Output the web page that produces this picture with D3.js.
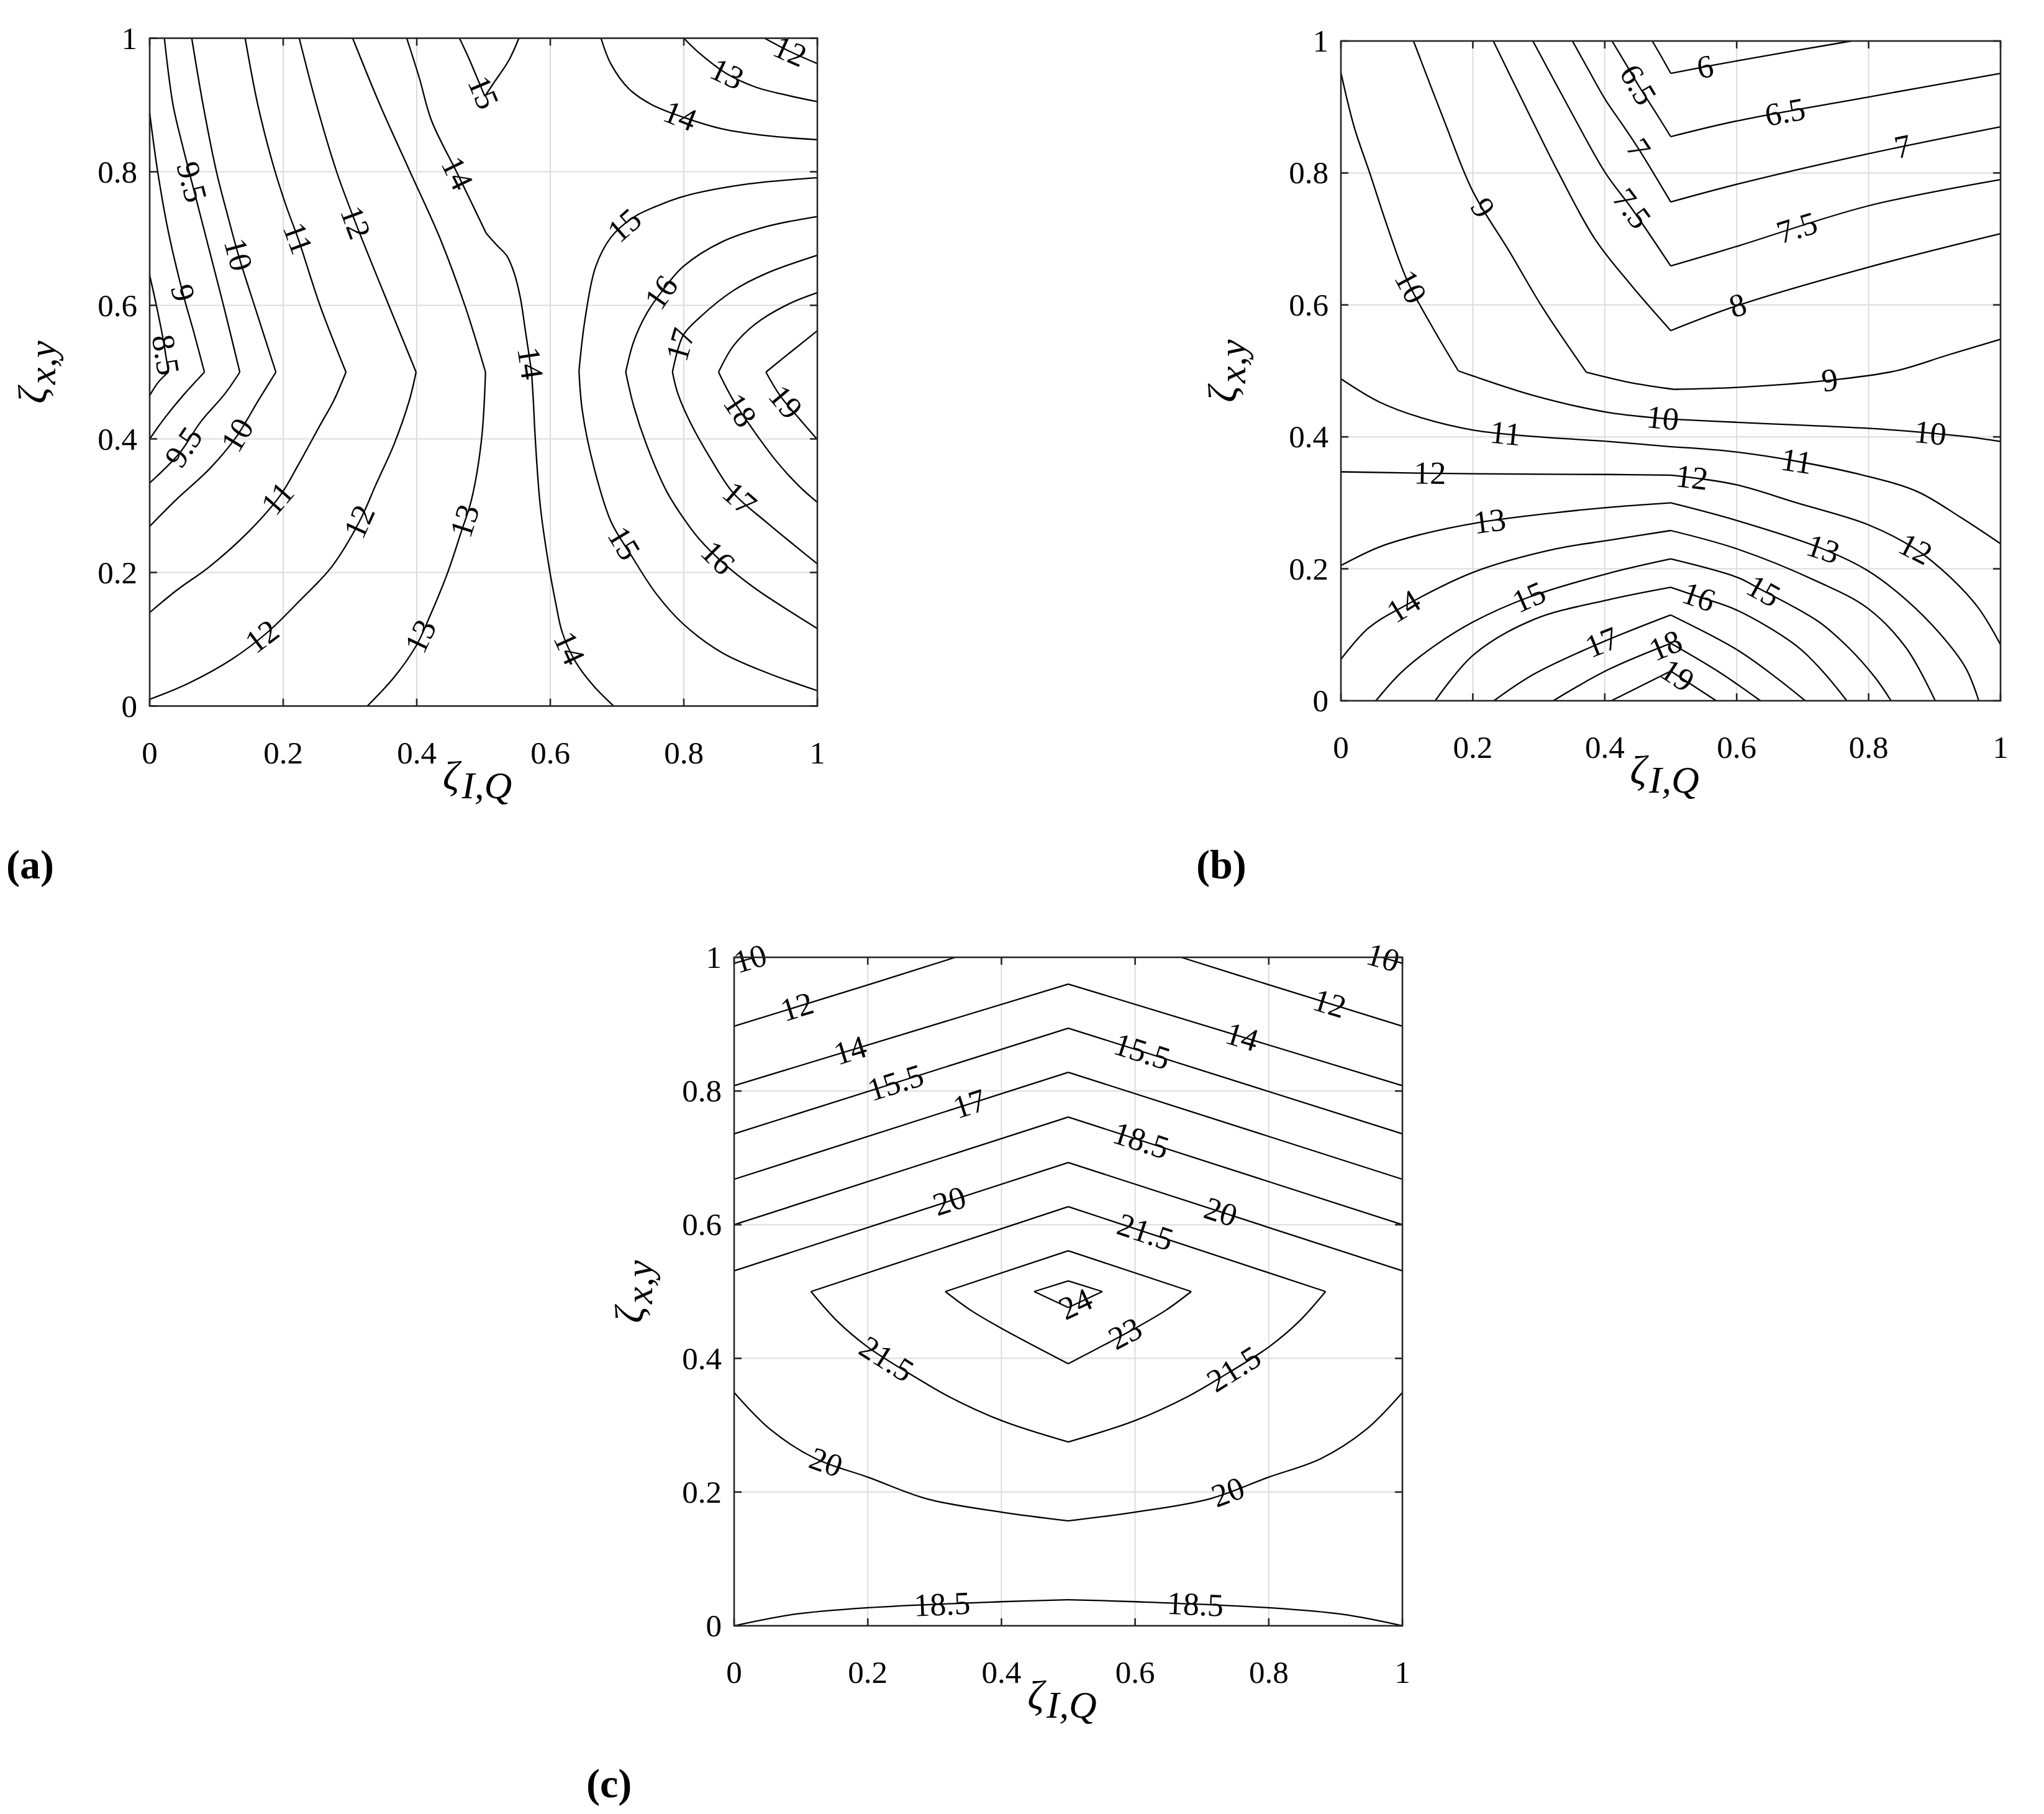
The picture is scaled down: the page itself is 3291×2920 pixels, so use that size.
<!DOCTYPE html>
<html><head><meta charset="utf-8">
<script src="https://cdnjs.cloudflare.com/ajax/libs/d3/7.8.5/d3.min.js"></script>
<style>body{margin:0;background:#fff;} text{font-family:"Liberation Serif","Times New Roman",serif;fill:#000;}</style>
</head><body><svg id="chart" width="3291" height="2920" xmlns="http://www.w3.org/2000/svg"></svg>
<script>
// ---------------- data ----------------
const tickValues = [0, 0.2, 0.4, 0.6, 0.8, 1];
const tickLabels = ["0", "0.2", "0.4", "0.6", "0.8", "1"];
const panelNames = ["a", "b", "c"];
const xLabelMain = "ζ", xLabelSub = "I,Q";
const yLabelMain = "ζ", yLabelSub = "x,y";

// contour pieces (smooth between kinks), panel (a): level + polyline in (ζ_IQ, ζ_xy)
const contoursA = [
 {v:8.5, pts:[[0,0.645],[0.01,0.6],[0.02,0.55],[0.028,0.5]]},
 {v:8.5, pts:[[0.028,0.5],[0.013,0.485],[0,0.465]]},
 {v:9, pts:[[0,0.888],[0.012,0.80],[0.028,0.71],[0.05,0.617],[0.066,0.56],[0.082,0.5]]},
 {v:9, pts:[[0.082,0.5],[0.05,0.465],[0.023,0.432],[0,0.4]]},
 {v:9.5, pts:[[0.022,1.0],[0.035,0.9],[0.049,0.84],[0.063,0.785],[0.09,0.68],[0.113,0.59],[0.135,0.5]]},
 {v:9.5, pts:[[0.135,0.5],[0.113,0.468],[0.076,0.425],[0.045,0.379],[0,0.334]]},
 {v:10, pts:[[0.063,1.0],[0.08,0.9],[0.1,0.8],[0.118,0.73],[0.133,0.675],[0.16,0.59],[0.189,0.5]]},
 {v:10, pts:[[0.189,0.5],[0.163,0.458],[0.129,0.402],[0.0895,0.355],[0.0396,0.309],[0,0.269]]},
 {v:11, pts:[[0.143,1.0],[0.162,0.9],[0.185,0.81],[0.204,0.75],[0.223,0.698],[0.255,0.6],[0.294,0.5]]},
 {v:11, pts:[[0.294,0.5],[0.276,0.458],[0.256,0.422],[0.223,0.362],[0.196,0.316],[0.149,0.262],[0.09,0.209],[0.04,0.173],[0,0.14]]},
 {v:12, pts:[[0.224,1.0],[0.25,0.9],[0.28,0.8],[0.309,0.722],[0.35,0.62],[0.399,0.5]]},
 {v:12, pts:[[0.399,0.5],[0.389,0.458],[0.366,0.392],[0.339,0.332],[0.314,0.276],[0.273,0.209],[0.223,0.156],[0.176,0.11],[0.123,0.07],[0.056,0.033],[0,0.01]]},
 {v:13, pts:[[0.304,1.0],[0.345,0.9],[0.39,0.8],[0.435,0.7],[0.472,0.6],[0.503,0.5]]},
 {v:13, pts:[[0.503,0.5],[0.497,0.399],[0.482,0.309],[0.466,0.259],[0.446,0.199],[0.419,0.133],[0.399,0.09],[0.366,0.043],[0.326,0]]},
 {v:14, pts:[[0.385,1.0],[0.404,0.94],[0.422,0.877],[0.462,0.795],[0.504,0.708]]},
 {v:14, pts:[[0.504,0.708],[0.52,0.69],[0.535,0.674],[0.546,0.648],[0.555,0.612],[0.563,0.56],[0.572,0.5]]},
 {v:14, pts:[[0.572,0.5],[0.575,0.45],[0.577,0.409],[0.585,0.3],[0.598,0.209],[0.608,0.155],[0.618,0.11],[0.638,0.066],[0.665,0.03],[0.695,0]]},
 {v:15, pts:[[0.464,1.0],[0.478,0.97],[0.489,0.944],[0.502,0.913]]},
 {v:15, pts:[[0.502,0.913],[0.516,0.934],[0.538,0.967],[0.553,1.0]]},
 {v:12, pts:[[0.921,1.0],[0.957,0.981],[1.0,0.962]]},
 {v:13, pts:[[0.8,1.0],[0.824,0.977],[0.864,0.947],[0.907,0.927],[0.957,0.914],[1.0,0.905]]},
 {v:14, pts:[[0.676,1.0],[0.691,0.961],[0.718,0.924],[0.751,0.901],[0.801,0.881],[0.858,0.864],[0.924,0.854],[1.0,0.848]]},
 {v:15, pts:[[1.0,0.791],[0.891,0.781],[0.799,0.763],[0.758,0.748],[0.725,0.732],[0.691,0.702],[0.668,0.658],[0.652,0.579],[0.643,0.502]]},
 {v:15, pts:[[0.643,0.502],[0.648,0.442],[0.665,0.359],[0.691,0.276],[0.721,0.226],[0.758,0.169],[0.799,0.123],[0.857,0.08],[0.924,0.05],[1.0,0.023]]},
 {v:16, pts:[[1.0,0.733],[0.924,0.718],[0.857,0.695],[0.799,0.658],[0.768,0.622],[0.745,0.589],[0.725,0.546],[0.713,0.5]]},
 {v:16, pts:[[0.713,0.5],[0.725,0.449],[0.745,0.389],[0.774,0.322],[0.799,0.282],[0.824,0.249],[0.857,0.216],[0.907,0.176],[0.957,0.143],[1.0,0.116]]},
 {v:17, pts:[[1.0,0.675],[0.924,0.648],[0.874,0.622],[0.824,0.582],[0.799,0.555],[0.783,0.5]]},
 {v:17, pts:[[0.783,0.5],[0.791,0.468],[0.811,0.422],[0.841,0.369],[0.874,0.319],[0.924,0.275],[0.964,0.242],[1.0,0.213]]},
 {v:18, pts:[[1.0,0.619],[0.957,0.602],[0.907,0.572],[0.874,0.539],[0.852,0.5]]},
 {v:18, pts:[[0.852,0.5],[0.874,0.458],[0.907,0.409],[0.94,0.365],[0.973,0.329],[1.0,0.305]]},
 {v:19, pts:[[1.0,0.562],[0.96,0.53],[0.923,0.5]]},
 {v:19, pts:[[0.923,0.5],[0.944,0.465],[0.974,0.429],[1.0,0.399]]}
];
const labelsA = [
 [15,0.498,0.918],[13,0.865,0.947],[12,0.955,0.971],[14,0.795,0.885],
 [9.5,0.064,0.785],[10,0.129,0.675],[11,0.221,0.70],[12,0.303,0.722],[14,0.455,0.795],[15,0.709,0.722],
 [9,0.047,0.618],[16,0.768,0.618],[17,0.799,0.54],[8.5,0.025,0.526],[14,0.568,0.513],[18,0.883,0.442],[19,0.951,0.454],
 [9.5,0.049,0.389],[10,0.129,0.407],[11,0.189,0.313],[12,0.314,0.276],[13,0.463,0.28],[17,0.887,0.315],[15,0.709,0.243],[16,0.848,0.219],
 [12,0.17,0.102],[13,0.402,0.106],[14,0.627,0.086]
];

// panel (b)
const contoursB = [
 {v:6, pts:[[0.472,1.0],[0.486,0.976],[0.5,0.951]]},
 {v:6, pts:[[0.5,0.951],[0.601,0.97],[0.774,1.0]]},
 {v:6.5, pts:[[0.411,1.0],[0.432,0.965],[0.454,0.928],[0.477,0.892],[0.5,0.855]]},
 {v:6.5, pts:[[0.5,0.855],[0.601,0.879],[0.799,0.915],[1.0,0.951]]},
 {v:7, pts:[[0.351,1.0],[0.376,0.955],[0.401,0.911],[0.427,0.873],[0.451,0.837],[0.5,0.756]]},
 {v:7, pts:[[0.5,0.756],[0.601,0.783],[0.799,0.829],[1.0,0.87]]},
 {v:7.5, pts:[[0.291,1.0],[0.345,0.9],[0.401,0.8],[0.441,0.746],[0.5,0.659]]},
 {v:7.5, pts:[[0.5,0.659],[0.601,0.689],[0.799,0.75],[1.0,0.79]]},
 {v:8, pts:[[0.231,1.0],[0.28,0.9],[0.33,0.8],[0.385,0.7],[0.44,0.63],[0.5,0.561]]},
 {v:8, pts:[[0.5,0.561],[0.601,0.599],[0.799,0.657],[1.0,0.708]]},
 {v:9, pts:[[0.11,1.0],[0.157,0.878],[0.2,0.772],[0.256,0.68],[0.305,0.597],[0.372,0.498]]},
 {v:9, pts:[[0.372,0.498],[0.44,0.482],[0.505,0.472]]},
 {v:9, pts:[[0.505,0.472],[0.601,0.475],[0.734,0.485],[0.841,0.5],[0.92,0.524],[1.0,0.548]]},
 {v:10, pts:[[0,0.952],[0.02,0.87],[0.044,0.799],[0.07,0.72],[0.1005,0.637],[0.14,0.564],[0.178,0.5]]},
 {v:10, pts:[[0.178,0.5],[0.198,0.493],[0.291,0.463],[0.405,0.437],[0.5,0.427]]},
 {v:10, pts:[[0.5,0.427],[0.601,0.422],[0.799,0.413],[0.891,0.406],[0.95,0.4],[1.0,0.393]]},
 {v:11, pts:[[0,0.488],[0.058,0.453],[0.125,0.428],[0.202,0.41],[0.3,0.4],[0.405,0.393],[0.5,0.385]]},
 {v:11, pts:[[0.5,0.385],[0.591,0.378],[0.691,0.363],[0.799,0.34],[0.874,0.317],[0.941,0.277],[1.0,0.238]]},
 {v:12, pts:[[0,0.347],[0.202,0.344],[0.405,0.343],[0.5,0.342]]},
 {v:12, pts:[[0.5,0.342],[0.534,0.338],[0.601,0.327],[0.691,0.3],[0.799,0.267],[0.871,0.23],[0.924,0.187],[0.967,0.14],[1.0,0.085]]},
 {v:13, pts:[[0,0.205],[0.058,0.233],[0.125,0.253],[0.208,0.27],[0.325,0.285],[0.405,0.293],[0.5,0.3]]},
 {v:13, pts:[[0.5,0.3],[0.601,0.273],[0.731,0.23],[0.799,0.197],[0.857,0.153],[0.907,0.103],[0.947,0.05],[0.967,0]]},
 {v:14, pts:[[0,0.063],[0.0415,0.11],[0.095,0.143],[0.2015,0.195],[0.325,0.23],[0.405,0.243],[0.5,0.258]]},
 {v:14, pts:[[0.5,0.258],[0.601,0.23],[0.724,0.18],[0.799,0.14],[0.857,0.08],[0.901,0]]},
 {v:15, pts:[[0.053,0],[0.0915,0.043],[0.1415,0.083],[0.2015,0.12],[0.285,0.157],[0.405,0.193],[0.5,0.215]]},
 {v:15, pts:[[0.5,0.215],[0.601,0.187],[0.634,0.17],[0.724,0.12],[0.77,0.08],[0.81,0.035],[0.834,0]]},
 {v:16, pts:[[0.143,0],[0.2015,0.07],[0.292,0.123],[0.405,0.153],[0.5,0.172]]},
 {v:16, pts:[[0.5,0.172],[0.541,0.158],[0.601,0.137],[0.691,0.083],[0.73,0.045],[0.767,0]]},
 {v:17, pts:[[0.232,0],[0.292,0.04],[0.392,0.087],[0.5,0.13]]},
 {v:17, pts:[[0.5,0.13],[0.601,0.077],[0.66,0.035],[0.704,0]]},
 {v:18, pts:[[0.322,0],[0.405,0.047],[0.5,0.087]]},
 {v:18, pts:[[0.5,0.087],[0.574,0.043],[0.636,0]]},
 {v:19, pts:[[0.41,0],[0.46,0.025],[0.5,0.045]]},
 {v:19, pts:[[0.5,0.045],[0.569,0]]}
];
const labelsB = [
 [6,0.552,0.961],[6.5,0.451,0.934],[6.5,0.673,0.894],[7,0.451,0.837],[7,0.851,0.844],[7.5,0.441,0.746],[7.5,0.691,0.718],
 [8,0.602,0.598],[9,0.213,0.746],[10,0.11,0.63],[9,0.741,0.487],[10,0.488,0.43],[10,0.894,0.412],[11,0.25,0.41],[11,0.691,0.365],
 [12,0.135,0.345],[12,0.532,0.338],[12,0.871,0.23],[13,0.225,0.275],[13,0.731,0.23],[14,0.095,0.143],[15,0.285,0.157],[15,0.637,0.16],
 [16,0.541,0.153],[17,0.395,0.09],[18,0.495,0.077],[19,0.511,0.04]
];

// panel (c)
const contoursC = [
 {v:10, pts:[[0,0.991],[0.031,1.0]]},
 {v:10, pts:[[0.969,1.0],[1.0,0.991]]},
 {v:12, pts:[[0,0.897],[0.201,0.959],[0.331,1.0]]},
 {v:12, pts:[[0.669,1.0],[0.8,0.959],[1.0,0.897]]},
 {v:14, pts:[[0,0.808],[0.5,0.96]]}, {v:14, pts:[[0.5,0.96],[1.0,0.808]]},
 {v:15.5, pts:[[0,0.736],[0.5,0.894]]}, {v:15.5, pts:[[0.5,0.894],[1.0,0.736]]},
 {v:17, pts:[[0,0.668],[0.5,0.828]]}, {v:17, pts:[[0.5,0.828],[1.0,0.668]]},
 {v:18.5, pts:[[0,0.6],[0.5,0.761]]}, {v:18.5, pts:[[0.5,0.761],[1.0,0.6]]},
 {v:20, pts:[[0,0.531],[0.5,0.693]]}, {v:20, pts:[[0.5,0.693],[1.0,0.531]]},
 {v:21.5, pts:[[0.115,0.5],[0.5,0.627]]}, {v:21.5, pts:[[0.5,0.627],[0.885,0.5]]},
 {v:21.5, pts:[[0.885,0.5],[0.845,0.455],[0.8,0.417],[0.729,0.372],[0.679,0.343],[0.6,0.307],[0.5,0.275]]},
 {v:21.5, pts:[[0.5,0.275],[0.4,0.307],[0.321,0.343],[0.271,0.372],[0.2,0.417],[0.155,0.455],[0.115,0.5]]},
 {v:23, pts:[[0.316,0.5],[0.5,0.561]]}, {v:23, pts:[[0.5,0.561],[0.684,0.5]]},
 {v:23, pts:[[0.684,0.5],[0.646,0.472],[0.6,0.445],[0.5,0.392]]},
 {v:23, pts:[[0.5,0.392],[0.4,0.445],[0.354,0.472],[0.316,0.5]]},
 {v:24, pts:[[0.449,0.5],[0.5,0.516]]}, {v:24, pts:[[0.5,0.516],[0.551,0.5]]},
 {v:24, pts:[[0.551,0.5],[0.5,0.476]]}, {v:24, pts:[[0.5,0.476],[0.449,0.5]]},
 {v:20, pts:[[0,0.349],[0.055,0.293],[0.122,0.25],[0.201,0.222],[0.288,0.19],[0.4,0.17],[0.5,0.157]]},
 {v:20, pts:[[0.5,0.157],[0.6,0.17],[0.712,0.19],[0.799,0.222],[0.878,0.25],[0.945,0.293],[1.0,0.349]]},
 {v:18.5, pts:[[0,0],[0.089,0.017],[0.201,0.027],[0.4,0.036],[0.5,0.039]]},
 {v:18.5, pts:[[0.5,0.039],[0.6,0.036],[0.799,0.027],[0.911,0.017],[1.0,0]]}
];
const labelsC = [
 [10,0.029,0.981],[10,0.965,0.979],[12,0.093,0.929],[12,0.892,0.934],[14,0.173,0.863],[14,0.761,0.884],
 [15.5,0.241,0.814],[15.5,0.612,0.864],[17,0.351,0.785],[18.5,0.61,0.73],[20,0.321,0.639],[20,0.73,0.625],
 [21.5,0.617,0.594],[24,0.512,0.479],[23,0.587,0.434],[21.5,0.228,0.399],[21.5,0.749,0.382],
 [20,0.138,0.246],[20,0.739,0.2],[18.5,0.311,0.032],[18.5,0.69,0.032]
];

// ---------------- layout ----------------
const FONT = '"Liberation Serif","Times New Roman",serif';
const panels = [
 {name:panelNames[0], lines:contoursA, labels:labelsA, box:[241,1316,1136.5,61.5], ylabX:-166, nameXY:[10,1414]},
 {name:panelNames[1], lines:contoursB, labels:labelsB, box:[2159,3221,1128,66], ylabX:-168, nameXY:[1926,1414]},
 {name:panelNames[2], lines:contoursC, labels:labelsC, box:[1182,2258,2617,1541], ylabX:-146, nameXY:[944,2893]}
];

const svg = d3.select("#chart");
svg.append("rect").attr("width",3291).attr("height",2920).attr("fill","#fff");

function snap(lines, level, px, py, x, y){
  let best=null;
  lines.filter(l=>l.v===level).forEach(l=>{
    for(let i=0;i<l.pts.length-1;i++){
      const ax=x(l.pts[i][0]), ay=y(l.pts[i][1]), bx=x(l.pts[i+1][0]), by=y(l.pts[i+1][1]);
      const dx=bx-ax, dy=by-ay, L2=dx*dx+dy*dy; if(!L2) continue;
      let t=((px-ax)*dx+(py-ay)*dy)/L2; t=Math.max(0,Math.min(1,t));
      const qx=ax+t*dx, qy=ay+t*dy, d=(qx-px)**2+(qy-py)**2;
      if(!best||d<best.d){
        let ang=Math.atan2(dy,dx)*180/Math.PI;
        if(ang>90) ang-=180; if(ang<=-90) ang+=180;
        best={d,qx,qy,ang};
      }
    }
  });
  return best;
}

panels.forEach(p=>{
  const [x0,x1,y0,y1]=p.box;
  const x=d3.scaleLinear().domain([0,1]).range([x0,x1]);
  const y=d3.scaleLinear().domain([0,1]).range([y0,y1]);
  const g=svg.append("g");

  // grid
  g.append("g").selectAll("line").data(tickValues.slice(1,-1)).join("line")
    .attr("x1",d=>x(d)).attr("x2",d=>x(d)).attr("y1",y0).attr("y2",y1)
    .attr("stroke","#dcdcdc").attr("stroke-width",2);
  g.append("g").selectAll("line").data(tickValues.slice(1,-1)).join("line")
    .attr("y1",d=>y(d)).attr("y2",d=>y(d)).attr("x1",x0).attr("x2",x1)
    .attr("stroke","#dcdcdc").attr("stroke-width",2);

  // contours
  const line=d3.line().x(d=>x(d[0])).y(d=>y(d[1])).curve(d3.curveCatmullRom.alpha(0.5));
  g.append("g").selectAll("path").data(p.lines).join("path")
    .attr("d",d=>line(d.pts)).attr("fill","none").attr("stroke","#000")
    .attr("stroke-width",2.3).attr("stroke-linejoin","miter");

  // contour labels
  p.labels.forEach(([v,lx,ly])=>{
    const s=snap(p.lines,v,x(lx),y(ly),x,y);
    if(!s) return;
    g.append("text").attr("transform",`translate(${s.qx},${s.qy}) rotate(${s.ang})`)
      .attr("font-family",FONT).attr("text-anchor","middle").attr("dy","0.33em")
      .style("font-size","52px").text(String(v));
  });

  // frame
  g.append("rect").attr("x",x0).attr("y",y1).attr("width",x1-x0).attr("height",y0-y1)
    .attr("fill","none").attr("stroke","#262626").attr("stroke-width",2.6);
  // ticks (inward, all sides)
  const tl=12;
  tickValues.forEach(t=>{
    g.append("line").attr("x1",x(t)).attr("x2",x(t)).attr("y1",y0).attr("y2",y0-tl).attr("stroke","#262626").attr("stroke-width",2.6);
    g.append("line").attr("x1",x(t)).attr("x2",x(t)).attr("y1",y1).attr("y2",y1+tl).attr("stroke","#262626").attr("stroke-width",2.6);
    g.append("line").attr("y1",y(t)).attr("y2",y(t)).attr("x1",x0).attr("x2",x0+tl).attr("stroke","#262626").attr("stroke-width",2.6);
    g.append("line").attr("y1",y(t)).attr("y2",y(t)).attr("x1",x1).attr("x2",x1-tl).attr("stroke","#262626").attr("stroke-width",2.6);
  });
  // tick labels
  g.append("g").selectAll("text").data(tickValues).join("text")
    .attr("x",d=>x(d)).attr("y",y0+92).attr("text-anchor","middle").attr("font-family",FONT).style("font-size","51px")
    .attr("fill","#262626").text((d,i)=>tickLabels[i]);
  g.append("g").selectAll("text").data(tickValues).join("text")
    .attr("x",x0-20).attr("y",d=>y(d)+17).attr("text-anchor","end").attr("font-family",FONT).style("font-size","51px")
    .attr("fill","#262626").text((d,i)=>tickLabels[i]);

  // axis labels
  const xl=g.append("text").attr("x",(x0+x1)/2-10).attr("y",y0+134).attr("text-anchor","middle").attr("font-family",FONT)
    .style("font-size","66px").style("font-style","italic").attr("fill","#262626");
  xl.append("tspan").text(xLabelMain);
  xl.append("tspan").attr("dx",4).attr("dy",14).style("font-size","62px").text(xLabelSub);
  const yl=g.append("text").attr("transform",`translate(${x0+p.ylabX},${(y0+y1)/2}) rotate(-90)`).attr("text-anchor","middle").attr("font-family",FONT)
    .style("font-size","66px").style("font-style","italic").attr("fill","#262626");
  yl.append("tspan").text(yLabelMain);
  yl.append("tspan").attr("dx",4).attr("dy",14).style("font-size","62px").text(yLabelSub);

  // panel name
  const nm=g.append("text").attr("x",p.nameXY[0]).attr("y",p.nameXY[1]).attr("font-family",FONT)
    .style("font-size","66px").style("font-weight","bold");
  nm.append("tspan").text("(");
  nm.append("tspan").text(p.name);
  nm.append("tspan").text(")");
});
</script></body></html>
